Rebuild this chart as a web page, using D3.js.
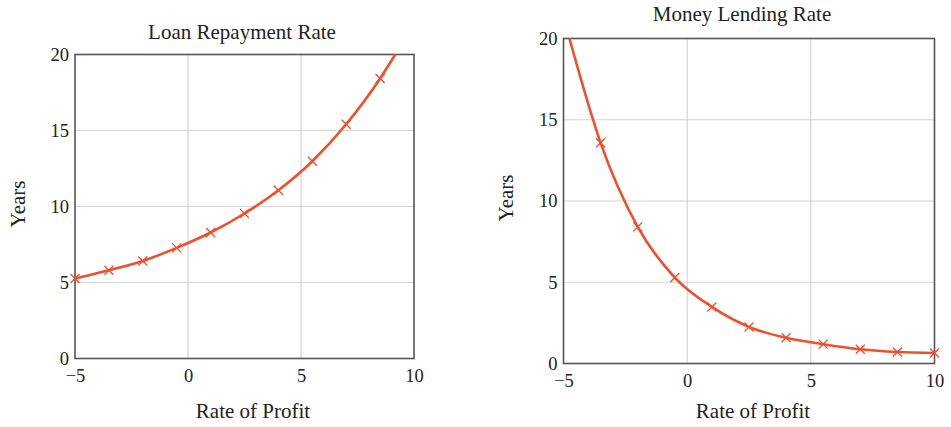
<!DOCTYPE html>
<html><head><meta charset="utf-8">
<script src="https://cdn.jsdelivr.net/npm/d3@7"></script>
<style>body{margin:0;background:#fff;}svg{display:block;} text{font-family:"Liberation Serif","Times New Roman",serif !important;}</style>
</head><body>
<svg id="c" width="951" height="427"></svg>
<script>
const xTicks = [-5, 0, 5, 10];
const yTicks = [0, 5, 10, 15, 20];
const titles = ["Loan Repayment Rate", "Money Lending Rate"];
const xLabel = "Rate of Profit";
const yLabel = "Years";

// Loan repayment: markers and curve
const loanMarkerX = [-5, -3.5, -2, -0.5, 1, 2.5, 4, 5.5, 7, 8.5];
const loanMarkerY = [5.26, 5.81, 6.42, 7.28, 8.29, 9.54, 11.07, 12.98, 15.41, 18.42];
const loanCurveX = [-5, -3.5, -2, -0.5, 1, 2.5, 4, 5.5, 7, 8.5, 9.17];
const loanCurveY = [5.26, 5.81, 6.42, 7.28, 8.29, 9.54, 11.07, 12.98, 15.41, 18.42, 20];

// Money lending: markers and curve
const lendMarkerX = [-3.5, -2, -0.5, 1, 2.5, 4, 5.5, 7, 8.5, 10];
const lendMarkerY = [13.58, 8.41, 5.29, 3.48, 2.25, 1.58, 1.19, 0.88, 0.71, 0.65];
const lendCurveX = [-4.76, -3.5, -2, -0.5, 1, 2.5, 4, 5.5, 7, 8.5, 10];
const lendCurveY = [20, 13.58, 8.41, 5.29, 3.48, 2.25, 1.58, 1.19, 0.88, 0.71, 0.65];

const svg = d3.select("#c");
const FONT = '"Liberation Serif", "Times New Roman", serif';
const RED = "#f14e2b";

function panel(cfg) {
  const x = d3.scaleLinear().domain([-5, 10]).range([cfg.left, cfg.right]);
  const y = d3.scaleLinear().domain([0, 20]).range([cfg.bottom, cfg.top]);
  const g = svg.append("g");
  // grid
  g.selectAll(".gx").data(xTicks.slice(1, -1)).join("line")
    .attr("x1", d => x(d)).attr("x2", d => x(d))
    .attr("y1", cfg.top).attr("y2", cfg.bottom)
    .attr("stroke", "#d4d4d4").attr("stroke-width", 1.2);
  g.selectAll(".gy").data(yTicks.slice(1, -1)).join("line")
    .attr("y1", d => y(d)).attr("y2", d => y(d))
    .attr("x1", cfg.left).attr("x2", cfg.right)
    .attr("stroke", "#d4d4d4").attr("stroke-width", 1.2);
  // axes via d3
  const xa = g.append("g").attr("transform", `translate(0,${cfg.bottom})`)
    .call(d3.axisBottom(x).tickValues(xTicks).tickSize(0).tickPadding(10)
      .tickFormat(d => d < 0 ? "\u2212" + Math.abs(d) : d));
  const ya = g.append("g").attr("transform", `translate(${cfg.left},0)`)
    .call(d3.axisLeft(y).tickValues(yTicks).tickSize(0).tickPadding(6));
  [xa, ya].forEach(a => {
    a.attr("font-family", null).attr("font-size", null);
    a.select(".domain").remove();
    a.selectAll("text").style("font-family", FONT).style("font-size", "18.5px").attr("fill", "#222");
  });
  // frame
  g.append("rect").attr("x", cfg.left).attr("y", cfg.top)
    .attr("width", cfg.right - cfg.left).attr("height", cfg.bottom - cfg.top)
    .attr("fill", "none").attr("stroke", "#555").attr("stroke-width", 1.6);
  // curve
  const curve = cfg.cx.map((v, i) => [v, cfg.cy[i]]);
  const line = d3.line().x(d => x(d[0])).y(d => y(d[1])).curve(d3.curveMonotoneX);
  g.append("path").attr("d", line(curve)).attr("fill", "none")
    .attr("stroke", RED).attr("stroke-width", 2.6);
  // markers
  const s = 4.5;
  const mk = cfg.mx.map((v, i) => [v, cfg.my[i]]);
  g.selectAll(".m").data(mk).join("path")
    .attr("d", d => {
      const px = x(d[0]), py = y(d[1]);
      return `M${px - s},${py - s}L${px + s},${py + s}M${px - s},${py + s}L${px + s},${py - s}`;
    })
    .attr("stroke", RED).attr("stroke-width", 1.3).attr("fill", "none");
  // titles & labels
  g.append("text").attr("x", cfg.titleX).attr("y", cfg.titleY)
    .attr("text-anchor", "middle").style("font-family", FONT).style("font-size", "21px")
    .attr("fill", "#222").text(cfg.title);
  g.append("text").attr("x", cfg.xlabX).attr("y", 418)
    .attr("text-anchor", "middle").style("font-family", FONT).style("font-size", "21px")
    .attr("fill", "#222").text(xLabel);
  g.append("text").attr("transform", `translate(${cfg.ylabX},${cfg.ylabY}) rotate(-90)`)
    .attr("text-anchor", "middle").style("font-family", FONT).style("font-size", "21px")
    .attr("fill", "#222").text(yLabel);
}

panel({left: 75, right: 414, top: 54.5, bottom: 358.5, cx: loanCurveX, cy: loanCurveY,
  mx: loanMarkerX, my: loanMarkerY, title: titles[0], titleX: 242, titleY: 39,
  xlabX: 253, ylabX: 25, ylabY: 204});
panel({left: 563.5, right: 934.5, top: 38.5, bottom: 363.5, cx: lendCurveX, cy: lendCurveY,
  mx: lendMarkerX, my: lendMarkerY, title: titles[1], titleX: 742, titleY: 21,
  xlabX: 753, ylabX: 513, ylabY: 198});
</script>
</body></html>
